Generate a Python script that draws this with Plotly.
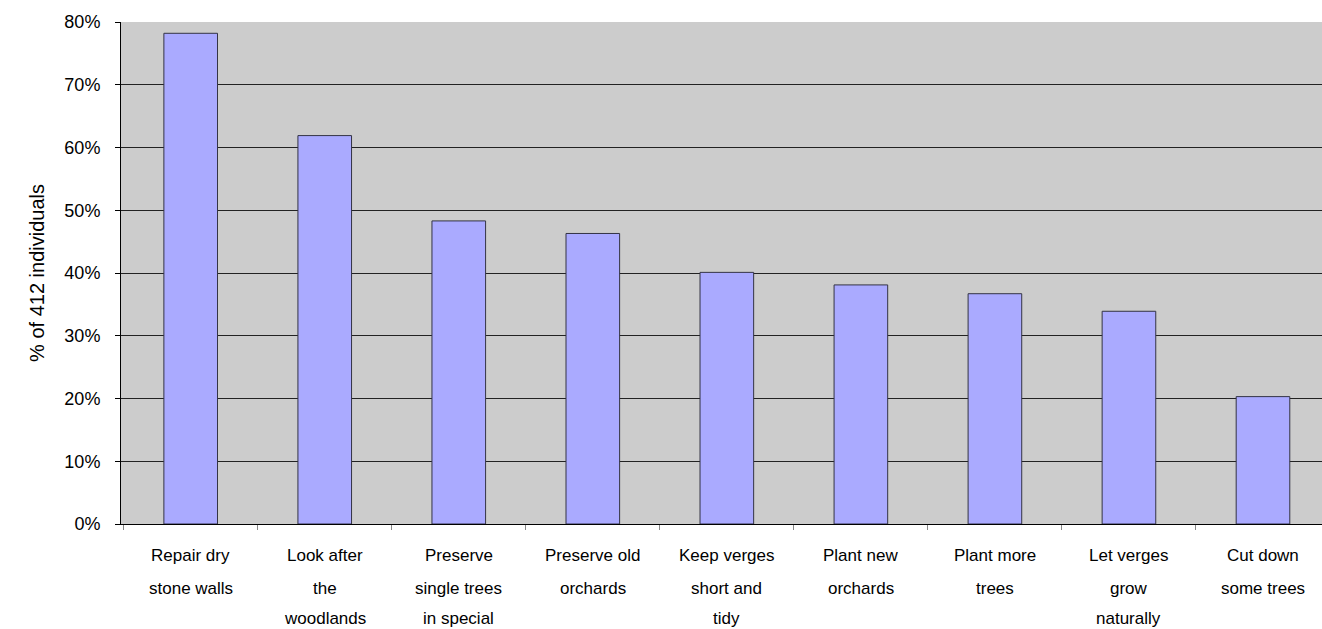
import plotly.graph_objects as go

categories = [
    "Repair dry stone walls",
    "Look after the woodlands",
    "Preserve single trees in special",
    "Preserve old orchards",
    "Keep verges short and tidy",
    "Plant new orchards",
    "Plant more trees",
    "Let verges grow naturally",
    "Cut down some trees",
]
label_lines = [
    ["Repair dry", "stone walls"],
    ["Look after", "the", "woodlands"],
    ["Preserve", "single trees", "in special"],
    ["Preserve old", "orchards"],
    ["Keep verges", "short and", "tidy"],
    ["Plant new", "orchards"],
    ["Plant more", "trees"],
    ["Let verges", "grow", "naturally"],
    ["Cut down", "some trees"],
]
values = [78.2, 61.9, 48.3, 46.3, 40.1, 38.1, 36.7, 33.9, 20.3]
y_ticks = [0, 10, 20, 30, 40, 50, 60, 70, 80]

FONT = "Liberation Sans, Arial, sans-serif"
LINE_SHIFTS = [-31, -64, -94]

fig = go.Figure()
fig.add_trace(go.Bar(
    x=categories,
    y=values,
    marker=dict(color="#AAAAFF", line=dict(color="#333344", width=1)),
    hoverinfo="x+y",
))

annotations = []
for cat, lines in zip(categories, label_lines):
    for i, line in enumerate(lines):
        annotations.append(dict(
            x=cat, y=0, xref="x", yref="y",
            text=line, showarrow=False,
            xanchor="center", yanchor="middle",
            yshift=LINE_SHIFTS[i],
            font=dict(family=FONT, size=17, color="#000000"),
        ))

fig.update_layout(
    width=1330, height=629,
    margin=dict(l=121, r=0, t=22, b=105, autoexpand=False),
    paper_bgcolor="#FFFFFF",
    plot_bgcolor="#CCCCCC",
    bargap=0.6,
    showlegend=False,
    font=dict(family=FONT, size=17, color="#000000"),
    annotations=annotations,
    xaxis=dict(
        range=[-0.52, len(categories) - 0.5],
        showticklabels=False,
        ticks="outside", tickson="boundaries", ticklen=5,
        tickcolor="#888888",
        showline=True, linecolor="#000000", linewidth=1,
        showgrid=False,
        automargin=False,
    ),
    yaxis=dict(
        range=[0, 80],
        tickvals=y_ticks,
        ticktext=[f"{v}%" for v in y_ticks],
        ticks="outside", ticklen=5, tickcolor="#000000",
        ticklabelstandoff=11,
        showline=True, linecolor="#000000", linewidth=1,
        showgrid=True, gridcolor="#222222", gridwidth=1,
        zeroline=False,
        automargin=False,
        tickfont=dict(family=FONT, size=18),
        title=dict(text="% of 412 individuals", standoff=14,
                   font=dict(family=FONT, size=20)),
    ),
)

post = (
    "document.body.style.margin='0';"
    "document.body.style.padding='0';"
    "document.documentElement.style.overflow='hidden';"
    "document.body.style.overflow='hidden';"
)
fig.write_html("out.html", post_script=post, config={"displayModeBar": False})
